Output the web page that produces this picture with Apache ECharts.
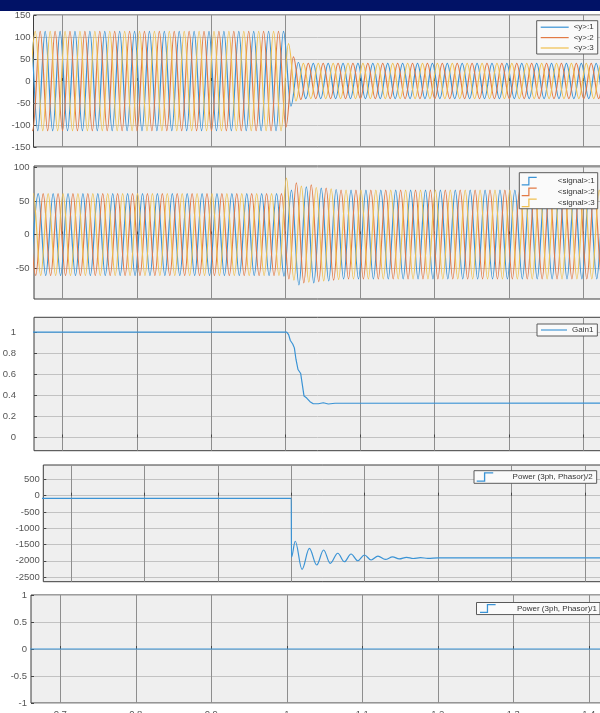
<!DOCTYPE html>
<html>
<head>
<meta charset="utf-8">
<title>Scope</title>
<script src="https://cdn.jsdelivr.net/npm/echarts@6.0.0/dist/echarts.min.js"></script>
<style>
  html, body { margin: 0; padding: 0; background: #fff; }
  #chart { width: 600px; height: 713px; }
</style>
</head>
<body>
<div id="chart"></div>
<script>
const xTicks = [0.7, 0.8, 0.9, 1, 1.1, 1.2, 1.3, 1.4]
const halfPeriod = 0.01

// <y>: value at each half-cycle peak, first peak time per phase
const yStarts = [0.647, 0.6503, 0.6537]
const y1Peaks = [
  -113, 113, -113, 113, -113, 113, -113, 113, -113, 113,
  -113, 113, -113, 113, -113, 113, -113, 113, -113, 113,
  -113, 113, -113, 113, -113, 113, -113, 113, -113, 113,
  -113, 113, -113, 113, -113, 113, -57, 42, -40, 40,
  -40, 40, -40, 40, -40, 40, -40, 40, -40, 40,
  -40, 40, -40, 40, -40, 40, -40, 40, -40, 40,
  -40, 40, -40, 40, -40, 40, -40, 40, -40, 40,
  -40, 40, -40, 40, -40, 40, -40, 40, -40, 40,
  -40,
]
const y2Peaks = [
  113, -113, 113, -113, 113, -113, 113, -113, 113, -113,
  113, -113, 113, -113, 113, -113, 113, -113, 113, -113,
  113, -113, 113, -113, 113, -113, 113, -113, 113, -113,
  113, -113, 113, -113, 113, -105, 55, -42, 40, -40,
  40, -40, 40, -40, 40, -40, 40, -40, 40, -40,
  40, -40, 40, -40, 40, -40, 40, -40, 40, -40,
  40, -40, 40, -40, 40, -40, 40, -40, 40, -40,
  40, -40, 40, -40, 40, -40, 40, -40, 40, -40,
  40,
]
const y3Peaks = [
  -113, 113, -113, 113, -113, 113, -113, 113, -113, 113,
  -113, 113, -113, 113, -113, 113, -113, 113, -113, 113,
  -113, 113, -113, 113, -113, 113, -113, 113, -113, 113,
  -113, 113, -113, 113, -113, 85, -45, 40, -40, 40,
  -40, 40, -40, 40, -40, 40, -40, 40, -40, 40,
  -40, 40, -40, 40, -40, 40, -40, 40, -40, 40,
  -40, 40, -40, 40, -40, 40, -40, 40, -40, 40,
  -40, 40, -40, 40, -40, 40, -40, 40, -40, 40,
  -40,
]
const yTicks = [-150, -100, -50, 0, 50, 100, 150]

// <signal>
const signalStarts = [0.6577, 0.6543, 0.651]
const signal1Peaks = [
  -61, 61, -61, 61, -61, 61, -61, 61, -61, 61,
  -61, 61, -61, 61, -61, 61, -61, 61, -61, 61,
  -61, 61, -61, 61, -61, 61, -61, 61, -61, 61,
  -61, 61, -61, 61, -62, 66, -75, 71, -72, 69,
  -69, 67, -66, 66, -66, 66, -66, 66, -66, 66,
  -66, 66, -66, 66, -66, 66, -66, 66, -66, 66,
  -66, 66, -66, 66, -66, 66, -66, 66, -66, 66,
  -66, 66, -66, 66, -66, 66, -66, 66, -66, 66,
]
const signal2Peaks = [
  61, -61, 61, -61, 61, -61, 61, -61, 61, -61,
  61, -61, 61, -61, 61, -61, 61, -61, 61, -61,
  61, -61, 61, -61, 61, -61, 61, -61, 61, -61,
  61, -61, 61, -61, 61, -66, 77, -72, 74, -70,
  69, -68, 66, -66, 66, -66, 66, -66, 66, -66,
  66, -66, 66, -66, 66, -66, 66, -66, 66, -66,
  66, -66, 66, -66, 66, -66, 66, -66, 66, -66,
  66, -66, 66, -66, 66, -66, 66, -66, 66, -66,
]
const signal3Peaks = [
  -61, 61, -61, 61, -61, 61, -61, 61, -61, 61,
  -61, 61, -61, 61, -61, 61, -61, 61, -61, 61,
  -61, 61, -61, 61, -61, 61, -61, 61, -61, 61,
  -61, 61, -61, 61, -61, 84, -68, 72, -71, 70,
  -69, 68, -67, 66, -66, 66, -66, 66, -66, 66,
  -66, 66, -66, 66, -66, 66, -66, 66, -66, 66,
  -66, 66, -66, 66, -66, 66, -66, 66, -66, 66,
  -66, 66, -66, 66, -66, 66, -66, 66, -66, 66,
  -66,
]
const signalTicks = [-50, 0, 50, 100]

// Gain1
const gainTimes = [0.6, 1.0013, 1.0039, 1.0062, 1.0094, 1.0116, 1.0138, 1.0165, 1.0201,
  1.0219, 1.0246, 1.0282, 1.0326, 1.037, 1.0438, 1.0505, 1.0572, 1.0662, 1.5]
const gainValues = [1, 1, 0.975, 0.92, 0.887, 0.85, 0.74, 0.645, 0.607,
  0.52, 0.393, 0.374, 0.34, 0.32, 0.32, 0.33, 0.318, 0.325, 0.327]
const gainTicks = [0, 0.2, 0.4, 0.6, 0.8, 1]

// Power (3ph, Phasor)/2
const powerTimes = [0.6, 1.0, 1.0002, 1.0054, 1.0146, 1.0246, 1.0346, 1.044, 1.053, 1.0633,
  1.0723, 1.0814, 1.0905, 1.0996, 1.1087, 1.118, 1.128, 1.138, 1.147, 1.157,
  1.166, 1.176, 1.186, 1.2, 1.5]
const powerValues = [-80, -80, -1894, -1400, -2263, -1617, -2130, -1670, -2080, -1770,
  -2030, -1792, -2000, -1823, -1977, -1855, -1960, -1880, -1945, -1895,
  -1930, -1905, -1925, -1912, -1912]
const powerTicks = [-2500, -2000, -1500, -1000, -500, 0, 500]

// Power (3ph, Phasor)/1
const power1Times = [0.6, 1.5]
const power1Values = [0, 0]
const power1Ticks = [-1, -0.5, 0, 0.5, 1]

const colors = ['#3a93d5', '#e27a45', '#f0c050']
const font = "'Liberation Sans', Arial, sans-serif"

const panels = [
  { left: 33.5, top: 15, width: 580, height: 132, xMin: 0.6613, xMax: 1.4402, yMin: -150, yMax: 150, ticks: yTicks, margin: 3 },
  { left: 34, top: 166, width: 580, height: 133, xMin: 0.662, xMax: 1.4408, yMin: -96, yMax: 102, ticks: signalTicks, margin: 4.5 },
  { left: 34, top: 317.3, width: 580, height: 133.4, xMin: 0.662, xMax: 1.4408, yMin: -0.125, yMax: 1.14, ticks: gainTicks, margin: 18 },
  { left: 43.3, top: 465, width: 570, height: 116.7, xMin: 0.6623, xMax: 1.4385, yMin: -2644, yMax: 944, ticks: powerTicks, margin: 3.5 },
  { left: 31, top: 595, width: 580, height: 108, xMin: 0.6612, xMax: 1.4294, yMin: -1, yMax: 1, ticks: power1Ticks, margin: 4 },
]

function peakPoints(start, peaks) {
  return peaks.map((v, i) => [start + i * halfPeriod, v])
}

function pairs(times, values) {
  return times.map((t, i) => [t, values[i]])
}

function lineSeries(name, color, index, data, smooth) {
  return {
    name,
    type: 'line',
    xAxisIndex: index,
    yAxisIndex: index,
    data,
    symbol: 'none',
    showSymbol: false,
    smooth: smooth ? 0.36 : false,
    smoothMonotone: 'x',
    silent: true,
    itemStyle: { color },
    lineStyle: { color, width: 1.2 },
  }
}

const lineIcon = 'path://M0,0 L30,0 L30,1.3 L0,1.3 Z'
const stepIcon = 'path://M0,8 L7,8 L7,0 L16,0 L16,1.3 L8.3,1.3 L8.3,9.3 L0,9.3 Z'

function legendBox(opts, textWidth) {
  const textStyle = { fontSize: 8, color: '#333', fontFamily: font }
  if (textWidth) {
    textStyle.rich = { a: { width: textWidth, align: 'right', fontSize: 8, lineHeight: 9, color: '#333', fontFamily: font } }
  }
  return Object.assign({
    orient: 'vertical',
    selectedMode: false,
    backgroundColor: '#fafafa',
    borderColor: '#5a5a5a',
    borderWidth: 1,
    symbolKeepAspect: true,
    itemStyle: { borderWidth: 0 },
    formatter: textWidth ? '{a|{name}}' : '{name}',
    textStyle,
  }, opts)
}

const plainNumber = (v) => String(v)

const chart = echarts.init(document.getElementById('chart'), null, { renderer: 'canvas' })

chart.setOption({
  animation: false,
  backgroundColor: '#fff',
  graphic: [
    { type: 'rect', left: 0, top: 0, shape: { width: 600, height: 11 }, style: { fill: '#011266' }, silent: true },
  ],
  grid: panels.map((p) => ({
    left: p.left,
    top: p.top,
    width: p.width,
    height: p.height,
    outerBoundsMode: 'none',
    containLabel: false,
    show: true,
    backgroundColor: '#efefef',
    borderColor: '#3d3d3d',
    borderWidth: 1,
  })),
  xAxis: panels.map((p, i) => ({
    type: 'value',
    gridIndex: i,
    min: p.xMin,
    max: p.xMax,
    axisLine: { show: false },
    axisTick: { show: true, inside: true, length: 3, customValues: xTicks, lineStyle: { color: '#444' } },
    axisLabel: { show: i === 4, customValues: xTicks, formatter: plainNumber, margin: 6, fontSize: 9.5, color: '#555', fontFamily: font },
    splitLine: { show: true, lineStyle: { color: '#8e8e8e', width: 1 } },
  })),
  yAxis: panels.map((p, i) => ({
    type: 'value',
    gridIndex: i,
    min: p.yMin,
    max: p.yMax,
    axisLine: { show: false },
    axisTick: { show: true, inside: true, length: 3, customValues: p.ticks, lineStyle: { color: '#444' } },
    axisLabel: { customValues: p.ticks, formatter: plainNumber, margin: p.margin, fontSize: 9.5, color: '#555', fontFamily: font },
    splitLine: { show: true, lineStyle: { color: '#c2c2c2', width: 1 } },
  })),
  legend: [
    legendBox({ left: 536.7, top: 20.7, padding: [2.5, 4, 2, 4], icon: lineIcon, itemWidth: 28, itemHeight: 10, itemGap: 2.4,
      data: ['<y>:1', '<y>:2', '<y>:3'] }),
    legendBox({ left: 519.3, top: 172.7, padding: [4, 3, 1.5, 2.4], icon: stepIcon, itemWidth: 15, itemHeight: 9, itemGap: 2.2,
      data: ['<signal>:1', '<signal>:2', '<signal>:3'] }, 53),
    legendBox({ left: 537, top: 324, padding: [2, 4, 2, 4], icon: lineIcon, itemWidth: 26, itemHeight: 10, itemGap: 2,
      data: ['Gain1'] }),
    legendBox({ left: 474, top: 470.7, padding: [1.5, 4, 1.5, 2.7], icon: stepIcon, itemWidth: 16.6, itemHeight: 9.6, itemGap: 2,
      data: ['Power (3ph, Phasor)/2'] }, 94.4),
    legendBox({ left: 476.5, top: 602.5, padding: [1.5, 3, 1.5, 3.5], icon: stepIcon, itemWidth: 15.6, itemHeight: 9.6, itemGap: 2,
      data: ['Power (3ph, Phasor)/1'] }, 96.4),
  ],
  series: [
    lineSeries('<y>:1', colors[0], 0, peakPoints(yStarts[0], y1Peaks), true),
    lineSeries('<y>:2', colors[1], 0, peakPoints(yStarts[1], y2Peaks), true),
    lineSeries('<y>:3', colors[2], 0, peakPoints(yStarts[2], y3Peaks), true),
    lineSeries('<signal>:1', colors[0], 1, peakPoints(signalStarts[0], signal1Peaks), true),
    lineSeries('<signal>:2', colors[1], 1, peakPoints(signalStarts[1], signal2Peaks), true),
    lineSeries('<signal>:3', colors[2], 1, peakPoints(signalStarts[2], signal3Peaks), true),
    lineSeries('Gain1', colors[0], 2, pairs(gainTimes, gainValues), false),
    lineSeries('Power (3ph, Phasor)/2', colors[0], 3, pairs(powerTimes, powerValues), true),
    lineSeries('Power (3ph, Phasor)/1', colors[0], 4, pairs(power1Times, power1Values), false),
  ],
})
</script>
</body>
</html>
